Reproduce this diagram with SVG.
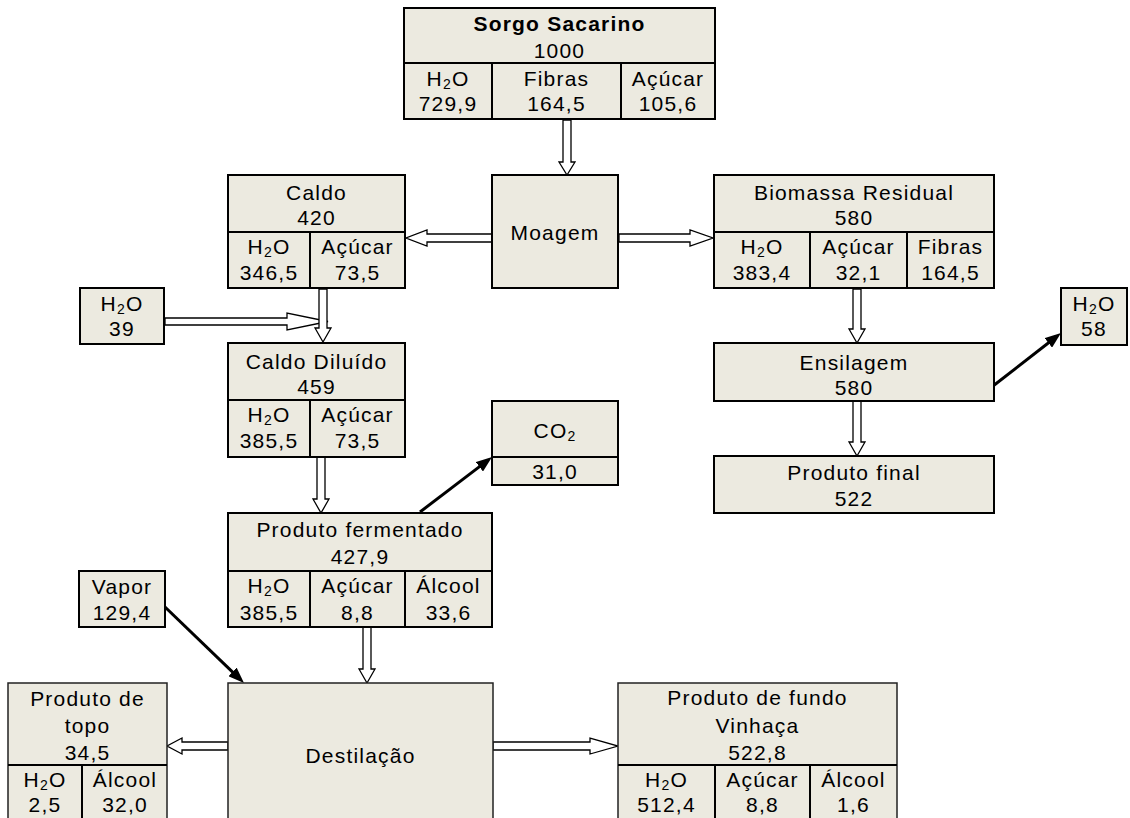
<svg xmlns="http://www.w3.org/2000/svg" width="1130" height="818" viewBox="0 0 1130 818">
  <defs>
    <style>
      .box { fill: #ECEAE0; stroke: #000; stroke-width: 2; }
      .thin { fill: #ECEAE0; stroke: #222; stroke-width: 1.5; }
      .rule { stroke: #000; stroke-width: 2; fill: none; }
      text { font-family: "Liberation Sans", Arial, sans-serif; font-size: 21px; letter-spacing: 1.2px; text-anchor: middle; fill: #000; }
      .bold { font-weight: bold; }
      .sub { font-size: 14px; }
      .hollow { fill: #fff; stroke: #000; stroke-width: 1.3; stroke-linejoin: miter; }
      .solid { stroke: #000; stroke-width: 3; fill: none; marker-end: url(#head); }
    </style>
    <marker id="head" markerUnits="userSpaceOnUse" markerWidth="16" markerHeight="12" refX="6" refY="6" orient="auto">
      <path d="M0,0 L16,6 L0,12 Z" fill="#000"/>
    </marker>
  </defs>
  <rect width="1130" height="818" fill="#fff"/>

  <!-- mass-flow connectors -->
  <g id="connectors">
    <path class="hollow" d="M563,120 L563,162 L559,162 L567,175 L575,162 L571,162 L571,120 Z"/>
    <path class="hollow" d="M492,234 L427,234 L427,230 L406,238 L427,246 L427,242 L492,242 Z"/>
    <path class="hollow" d="M619,234 L690,234 L690,230 L713,238 L690,246 L690,242 L619,242 Z"/>
    <path class="hollow" d="M165,318 L287,318 L287,313 L328,321.5 L287,330 L287,325 L165,325 Z"/>
    <path class="hollow" d="M319,289 L319,328 L315,328 L323,342 L331,328 L327,328 L327,289 Z"/>
    <path class="hollow" d="M317,457 L317,499 L313,499 L321,513 L329,499 L325,499 L325,457 Z"/>
    <path class="hollow" d="M853,289 L853,329 L849,329 L857,343 L865,329 L861,329 L861,289 Z"/>
    <path class="hollow" d="M853,401 L853,442 L849,442 L857,456 L865,442 L861,442 L861,401 Z"/>
    <path class="hollow" d="M363,627 L363,669 L359,669 L367,683 L375,669 L371,669 L371,627 Z"/>
    <path class="hollow" d="M228,742 L182,742 L182,738 L167,746 L182,754 L182,750 L228,750 Z"/>
    <path class="hollow" d="M493,742 L590,742 L590,738 L618,746 L590,754 L590,750 L493,750 Z"/>
    <line class="solid" x1="420" y1="512" x2="484.1" y2="463.1"/>
    <line class="solid" x1="993" y1="386" x2="1053.1" y2="339.2"/>
    <line class="solid" x1="165" y1="607" x2="236.8" y2="676.1"/>
  </g>

  <g id="sorgo">
    <rect class="box" x="404" y="8" width="311" height="111"/>
    <path class="rule" d="M404,63 H715 M492,63 V119 M621,63 V119"/>
    <text class="bold" x="559.5" y="31">Sorgo Sacarino</text>
    <text x="559.5" y="58">1000</text>
    <text x="448" y="86">H<tspan class="sub" dy="2.5">2</tspan><tspan dy="-2.5">O</tspan></text>
    <text x="448" y="111">729,9</text>
    <text x="556.5" y="86">Fibras</text>
    <text x="556.5" y="111">164,5</text>
    <text x="668" y="86">Açúcar</text>
    <text x="668" y="111">105,6</text>
  </g>

  <g id="moagem">
    <rect class="box" x="492" y="175" width="126" height="113"/>
    <text x="555" y="240">Moagem</text>
  </g>

  <g id="caldo">
    <rect class="box" x="228" y="175" width="177" height="113"/>
    <path class="rule" d="M228,232 H405 M310,232 V288"/>
    <text x="316.5" y="200">Caldo</text>
    <text x="316.5" y="225">420</text>
    <text x="269" y="254">H<tspan class="sub" dy="2.5">2</tspan><tspan dy="-2.5">O</tspan></text>
    <text x="269" y="280">346,5</text>
    <text x="357.5" y="254">Açúcar</text>
    <text x="357.5" y="280">73,5</text>
  </g>

  <g id="biomassa">
    <rect class="box" x="714" y="175" width="280" height="113"/>
    <path class="rule" d="M714,232 H994 M810,232 V288 M907,232 V288"/>
    <text x="854" y="200">Biomassa Residual</text>
    <text x="854" y="225">580</text>
    <text x="762" y="254">H<tspan class="sub" dy="2.5">2</tspan><tspan dy="-2.5">O</tspan></text>
    <text x="762" y="280">383,4</text>
    <text x="858.5" y="254">Açúcar</text>
    <text x="858.5" y="280">32,1</text>
    <text x="950.5" y="254">Fibras</text>
    <text x="950.5" y="280">164,5</text>
  </g>

  <g id="agua-diluicao">
    <rect class="box" x="80" y="288" width="84" height="56"/>
    <text x="122" y="311">H<tspan class="sub" dy="2.5">2</tspan><tspan dy="-2.5">O</tspan></text>
    <text x="122" y="336">39</text>
  </g>

  <g id="caldo-diluido">
    <rect class="box" x="228" y="343" width="177" height="114"/>
    <path class="rule" d="M228,400 H405 M310,400 V457"/>
    <text x="316.5" y="369">Caldo Diluído</text>
    <text x="316.5" y="394">459</text>
    <text x="269" y="422">H<tspan class="sub" dy="2.5">2</tspan><tspan dy="-2.5">O</tspan></text>
    <text x="269" y="448">385,5</text>
    <text x="357.5" y="422">Açúcar</text>
    <text x="357.5" y="448">73,5</text>
  </g>

  <g id="co2">
    <rect class="box" x="492" y="401" width="126" height="84"/>
    <path class="rule" d="M492,457 H618"/>
    <text x="555" y="438">CO<tspan class="sub" dy="2.5">2</tspan></text>
    <text x="555" y="479">31,0</text>
  </g>

  <g id="ensilagem">
    <rect class="box" x="714" y="343" width="280" height="58"/>
    <text x="854" y="370">Ensilagem</text>
    <text x="854" y="395">580</text>
  </g>

  <g id="agua-ensilagem">
    <rect class="box" x="1061" y="288" width="66" height="57"/>
    <text x="1094" y="311">H<tspan class="sub" dy="2.5">2</tspan><tspan dy="-2.5">O</tspan></text>
    <text x="1094" y="336">58</text>
  </g>

  <g id="produto-final">
    <rect class="box" x="714" y="456" width="280" height="57"/>
    <text x="854" y="480">Produto final</text>
    <text x="854" y="506">522</text>
  </g>

  <g id="produto-fermentado">
    <rect class="box" x="228" y="513" width="264" height="114"/>
    <path class="rule" d="M228,571 H492 M310,571 V627 M405,571 V627"/>
    <text x="360" y="537">Produto fermentado</text>
    <text x="360" y="564">427,9</text>
    <text x="269" y="593">H<tspan class="sub" dy="2.5">2</tspan><tspan dy="-2.5">O</tspan></text>
    <text x="269" y="620">385,5</text>
    <text x="357.5" y="593">Açúcar</text>
    <text x="357.5" y="620">8,8</text>
    <text x="448.5" y="593">Álcool</text>
    <text x="448.5" y="620">33,6</text>
  </g>

  <g id="vapor">
    <rect class="box" x="79" y="571" width="86" height="56"/>
    <text x="122" y="594">Vapor</text>
    <text x="122" y="620">129,4</text>
  </g>

  <g id="destilacao">
    <rect class="thin" x="228" y="683" width="265" height="140"/>
    <text x="360.5" y="763">Destilação</text>
  </g>

  <g id="produto-topo">
    <rect class="thin" x="8" y="683" width="159" height="140"/>
    <path class="rule" d="M8,765 H167 M82,765 V818"/>
    <text x="87.5" y="706">Produto de</text>
    <text x="87.5" y="733">topo</text>
    <text x="87.5" y="760">34,5</text>
    <text x="45" y="787">H<tspan class="sub" dy="2.5">2</tspan><tspan dy="-2.5">O</tspan></text>
    <text x="45" y="812">2,5</text>
    <text x="125" y="787">Álcool</text>
    <text x="125" y="812">32,0</text>
  </g>

  <g id="produto-fundo">
    <rect class="thin" x="618" y="683" width="279" height="140"/>
    <path class="rule" d="M618,765 H897 M715,765 V818 M810,765 V818"/>
    <text x="757.5" y="705">Produto de fundo</text>
    <text x="757.5" y="733">Vinhaça</text>
    <text x="757.5" y="760">522,8</text>
    <text x="666.5" y="787">H<tspan class="sub" dy="2.5">2</tspan><tspan dy="-2.5">O</tspan></text>
    <text x="666.5" y="812">512,4</text>
    <text x="762.5" y="787">Açúcar</text>
    <text x="762.5" y="812">8,8</text>
    <text x="853.5" y="787">Álcool</text>
    <text x="853.5" y="812">1,6</text>
  </g>
</svg>
